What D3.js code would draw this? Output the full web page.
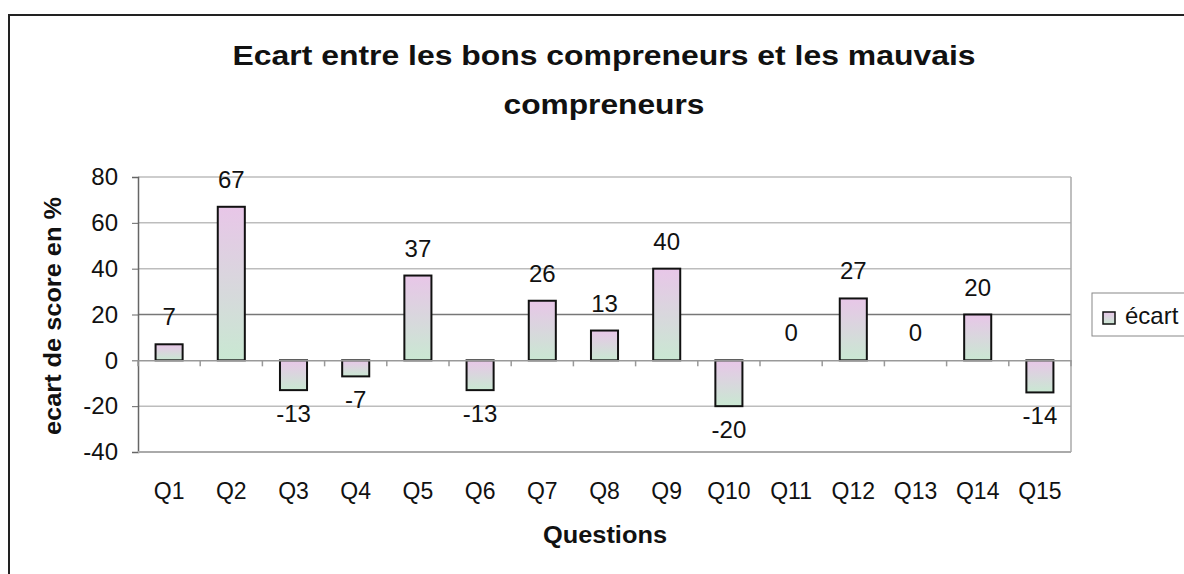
<!DOCTYPE html>
<html>
<head>
<meta charset="utf-8">
<script src="https://d3js.org/d3.v7.min.js"></script>
<style>
  body { margin: 0; background: #fff; }
  svg { font-family: "Liberation Sans", Arial, sans-serif; }
</style>
</head>
<body>
<div id="chart"></div>
<script>
// data
var questions = ["Q1","Q2","Q3","Q4","Q5","Q6","Q7","Q8","Q9","Q10","Q11","Q12","Q13","Q14","Q15"];
var ecart = [7, 67, -13, -7, 37, -13, 26, 13, 40, -20, 0, 27, 0, 20, -14];
var yTicks = [-40, -20, 0, 20, 40, 60, 80];
var seriesName = "écart";

var width = 1184, height = 574;
var margin = { top: 177, right: 113, bottom: 122, left: 138 };
var w = width - margin.left - margin.right,
    h = height - margin.top - margin.bottom;

var svg = d3.select("#chart").append("svg")
    .attr("width", width)
    .attr("height", height);

// bar gradient (pink / pale green)
var grad = svg.append("defs").append("linearGradient")
    .attr("id", "barfill")
    .attr("x1", 0).attr("y1", 0).attr("x2", 0).attr("y2", 1);
grad.append("stop").attr("offset", "0%").attr("stop-color", "#e8c6e8");
grad.append("stop").attr("offset", "100%").attr("stop-color", "#c9e8d2");

// outer frame
svg.append("rect")
    .attr("x", 9).attr("y", 15)
    .attr("width", 1200).attr("height", 600)
    .attr("fill", "none")
    .attr("stroke", "#222")
    .attr("stroke-width", 2);

// title (the original font is a bit wider than Liberation, so stretch it)
var title = svg.append("text")
    .attr("text-anchor", "middle")
    .attr("font-weight", "bold")
    .attr("font-size", 28)
    .attr("fill", "#111");
title.append("tspan").attr("x", 604).attr("y", 65)
    .attr("textLength", 743).attr("lengthAdjust", "spacingAndGlyphs")
    .text("Ecart entre les bons compreneurs et les mauvais");
title.append("tspan").attr("x", 604).attr("y", 114)
    .attr("textLength", 201).attr("lengthAdjust", "spacingAndGlyphs")
    .text("compreneurs");

var g = svg.append("g")
    .attr("transform", "translate(" + margin.left + "," + margin.top + ")");

var x = d3.scaleBand()
    .domain(questions)
    .range([0, w])
    .paddingInner(0.565)
    .paddingOuter(0.2825);

var y = d3.scaleLinear()
    .domain([-40, 80])
    .range([h, 0]);

// gridlines
g.selectAll(".grid")
    .data(yTicks.filter(function(d) { return d != 0; }))
    .enter().append("line")
    .attr("class", "grid")
    .attr("x1", 0).attr("x2", w)
    .attr("y1", function(d) { return y(d); })
    .attr("y2", function(d) { return y(d); })
    .attr("stroke", function(d) { return d == 20 ? "#777" : "#bdbdbd"; })
    .attr("stroke-width", 1.5);

// right border of plot area
g.append("line")
    .attr("x1", w).attr("x2", w)
    .attr("y1", 0).attr("y2", h)
    .attr("stroke", "#aaa")
    .attr("stroke-width", 1.5);

// y axis
var yAxis = d3.axisLeft(y)
    .tickValues(yTicks)
    .tickFormat(function(d) { return String(d); })
    .tickSize(6)
    .tickPadding(14);
var yg = g.append("g").call(yAxis);
yg.select(".domain").attr("stroke", "#666").attr("stroke-width", 1.5);
yg.selectAll(".tick line").attr("stroke", "#666");
yg.selectAll("text").attr("font-size", 24).attr("fill", "#111")
    .attr("font-family", "Liberation Sans, Arial, sans-serif");

// bars
g.selectAll(".bar")
    .data(ecart)
    .enter().append("rect")
    .attr("class", "bar")
    .attr("x", function(d, i) { return x(questions[i]); })
    .attr("y", function(d) { return y(Math.max(0, d)); })
    .attr("width", x.bandwidth())
    .attr("height", function(d) { return Math.abs(y(d) - y(0)); })
    .attr("fill", "url(#barfill)")
    .attr("stroke", "#111")
    .attr("stroke-width", 2)
    .style("display", function(d) { return d == 0 ? "none" : null; });

// zero axis with category ticks
var xAxis = d3.axisBottom(x)
    .tickSize(0)
    .tickFormat("");
var xg = g.append("g")
    .attr("transform", "translate(0," + y(0) + ")")
    .call(xAxis);
xg.select(".domain").attr("stroke", "#999").attr("stroke-width", 1.5);
var step = x.step();
g.selectAll(".ctick")
    .data(d3.range(questions.length + 1))
    .enter().append("line")
    .attr("class", "ctick")
    .attr("x1", function(i) { return i * step; })
    .attr("x2", function(i) { return i * step; })
    .attr("y1", y(0))
    .attr("y2", y(0) + 6)
    .attr("stroke", "#999")
    .attr("stroke-width", 1.5);

// bottom border
g.append("line")
    .attr("x1", 0).attr("x2", w)
    .attr("y1", h).attr("y2", h)
    .attr("stroke", "#aaa")
    .attr("stroke-width", 2);

// category labels
g.selectAll(".qlabel")
    .data(questions)
    .enter().append("text")
    .attr("class", "qlabel")
    .attr("x", function(d) { return x(d) + x.bandwidth() / 2; })
    .attr("y", h + 47)
    .attr("text-anchor", "middle")
    .attr("font-size", 23)
    .attr("fill", "#111")
    .text(function(d) { return d; });

// value labels
g.selectAll(".vlabel")
    .data(ecart)
    .enter().append("text")
    .attr("class", "vlabel")
    .attr("x", function(d, i) { return x(questions[i]) + x.bandwidth() / 2; })
    .attr("y", function(d) { return d < 0 ? y(d) + 32 : y(d) - 19; })
    .attr("text-anchor", "middle")
    .attr("font-size", 24)
    .attr("fill", "#111")
    .text(function(d) { return d; });

// axis titles
svg.append("text")
    .attr("transform", "translate(61," + 316 + ") rotate(-90)")
    .attr("text-anchor", "middle")
    .attr("font-weight", "bold")
    .attr("font-size", 23)
    .attr("textLength", 238).attr("lengthAdjust", "spacingAndGlyphs")
    .attr("fill", "#111")
    .text("ecart de score en %");

svg.append("text")
    .attr("x", 605)
    .attr("y", 543)
    .attr("text-anchor", "middle")
    .attr("font-weight", "bold")
    .attr("font-size", 23)
    .attr("textLength", 124).attr("lengthAdjust", "spacingAndGlyphs")
    .attr("fill", "#111")
    .text("Questions");

// legend
var legend = svg.append("g").attr("transform", "translate(1092,293)");
legend.append("rect")
    .attr("width", 120).attr("height", 43)
    .attr("fill", "#fff")
    .attr("stroke", "#888")
    .attr("stroke-width", 1);
legend.append("rect")
    .attr("x", 11).attr("y", 19)
    .attr("width", 12).attr("height", 12)
    .attr("fill", "url(#barfill)")
    .attr("stroke", "#111")
    .attr("stroke-width", 1.5);
legend.append("text")
    .attr("x", 33).attr("y", 31)
    .attr("font-size", 24)
    .attr("fill", "#111")
    .text(seriesName);
</script>
</body>
</html>
